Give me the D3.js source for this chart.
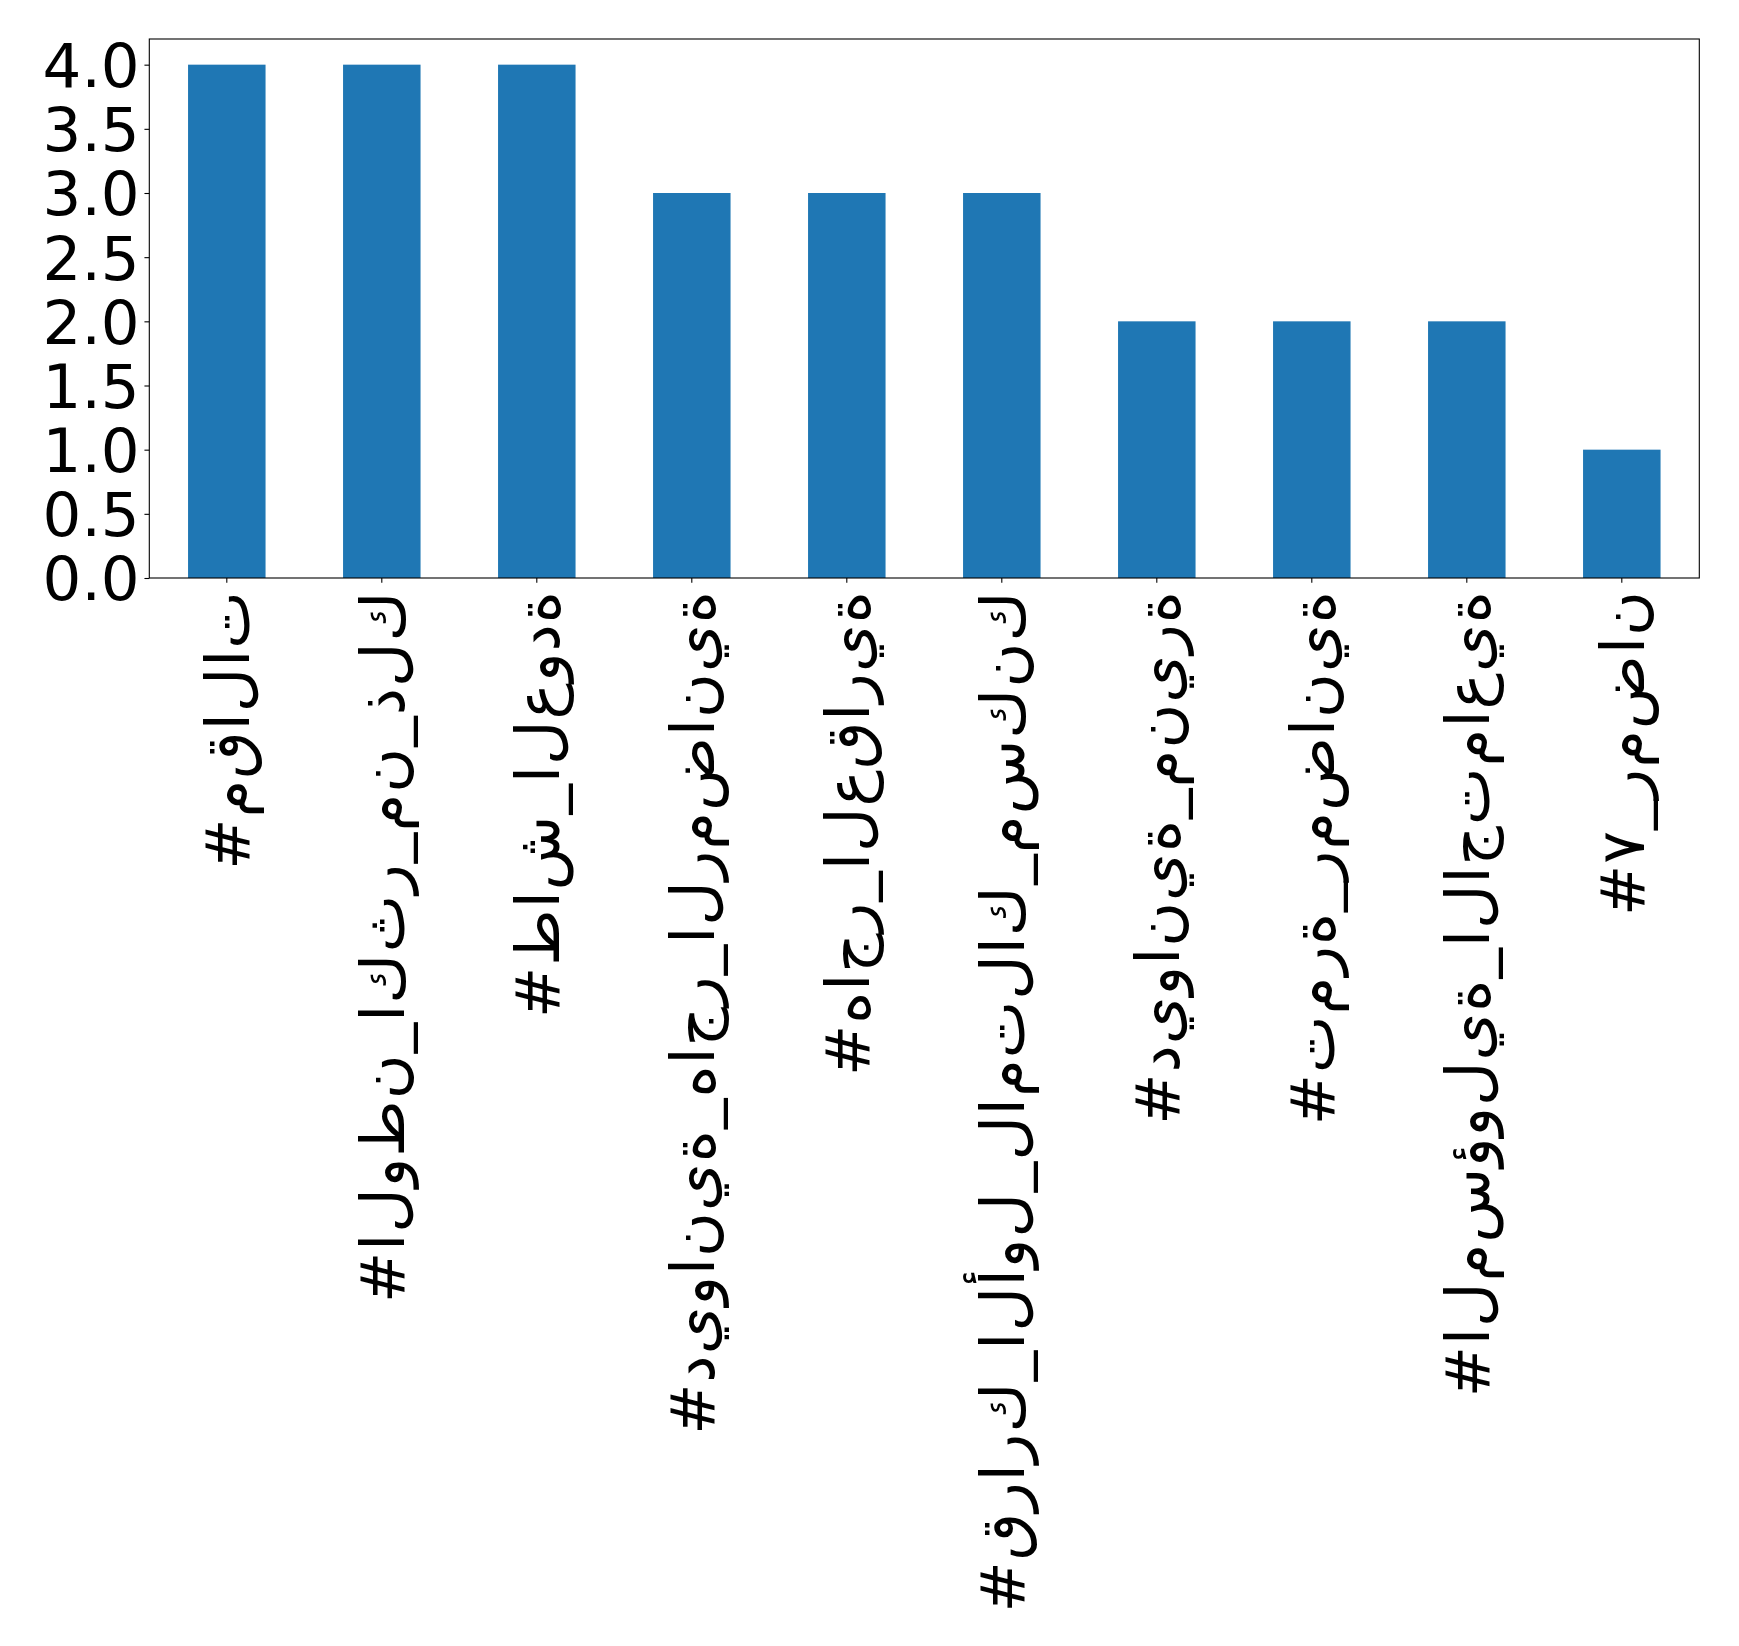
<!DOCTYPE html>
<html>
<head>
<meta charset="utf-8">
<script src="https://cdn.jsdelivr.net/npm/d3@7"></script>
<style>
  html, body { margin: 0; padding: 0; background: #fff; }
  svg { display: block; }
  text { font-family: "DejaVu Sans", sans-serif; }
</style>
</head>
<body>
<svg id="chart" width="1739" height="1646"></svg>
<script>
const categories = [
  "#مقالات",
  "#الوطن_اكثر_من_ذلك",
  "#طاش_العودة",
  "#ديوانية_هاجر_الرمضانية",
  "#هاجر_العقارية",
  "#قرارك_الأول_لامتلاك_مسكنك",
  "#ديوانية_منيرة",
  "#تمرة_رمضانية",
  "#المسؤولية_الاجتماعية",
  "#٧_رمضان"
];
const values = [4, 4, 4, 3, 3, 3, 2, 2, 2, 1];
const yTicks = [0, 0.5, 1.0, 1.5, 2.0, 2.5, 3.0, 3.5, 4.0];

const plotLeft = 149.3, plotRight = 1699.3, plotTop = 39, plotBottom = 578;
const fontSize = 61;
const tickLen = 4.86, tickPad = 4.86;

const svg = d3.select("#chart");

const x = d3.scaleBand().domain(categories).range([plotLeft, plotRight])
  .paddingInner(0.5).paddingOuter(0.25);
const y = d3.scaleLinear().domain([0, 4.2]).range([plotBottom, plotTop]);

// bars
svg.append("g").selectAll("rect").data(values).join("rect")
  .attr("x", (d, i) => x(categories[i]))
  .attr("y", d => y(d))
  .attr("width", x.bandwidth())
  .attr("height", d => y(0) - y(d))
  .attr("fill", "#1f77b4");

// y axis
const yAxis = svg.append("g").attr("transform", `translate(${plotLeft},0)`)
  .call(d3.axisLeft(y).tickValues(yTicks).tickFormat(d3.format(".1f"))
    .tickSize(tickLen).tickPadding(tickPad));
yAxis.select(".domain").remove();
yAxis.selectAll(".tick line").attr("stroke", "#000").attr("stroke-width", 1.1);
yAxis.selectAll(".tick text")
  .attr("font-family", "DejaVu Sans")
  .attr("font-size", fontSize)
  .attr("fill", "#000")
  .attr("dy", "0.36em");

// x axis
const xAxis = svg.append("g").attr("transform", `translate(0,${plotBottom})`)
  .call(d3.axisBottom(x).tickSize(tickLen).tickPadding(tickPad));
xAxis.select(".domain").remove();
xAxis.selectAll(".tick line").attr("stroke", "#000").attr("stroke-width", 1.1);

// unshaped, left-to-right display of label characters (as in the reference)
function displayForm(s) {
  return "\u202D" + Array.from(s).join("\u200C") + "\u202C";
}
xAxis.selectAll(".tick text")
  .text(d => displayForm(d))
  .attr("font-family", "DejaVu Sans")
  .attr("font-size", fontSize)
  .attr("fill", "#000")
  .attr("text-anchor", "end")
  .attr("transform", `translate(0,${tickLen + tickPad + 3}) rotate(-90)`)
  .attr("x", 0)
  .attr("y", 0)
  .attr("dy", "0.36em")
  .style("direction", "ltr")
  .style("unicode-bidi", "bidi-override")
  .each(function(d) {
    // widen slightly to match the reference glyph advances
    const natural = this.getComputedTextLength();
    const n = Array.from(d).length;
    this.setAttribute("textLength", natural + n * 1.1);
    this.setAttribute("lengthAdjust", "spacing");
  });

// frame
svg.append("rect")
  .attr("x", plotLeft).attr("y", plotTop)
  .attr("width", plotRight - plotLeft).attr("height", plotBottom - plotTop)
  .attr("fill", "none").attr("stroke", "#000").attr("stroke-width", 1.1);
</script>
</body>
</html>
